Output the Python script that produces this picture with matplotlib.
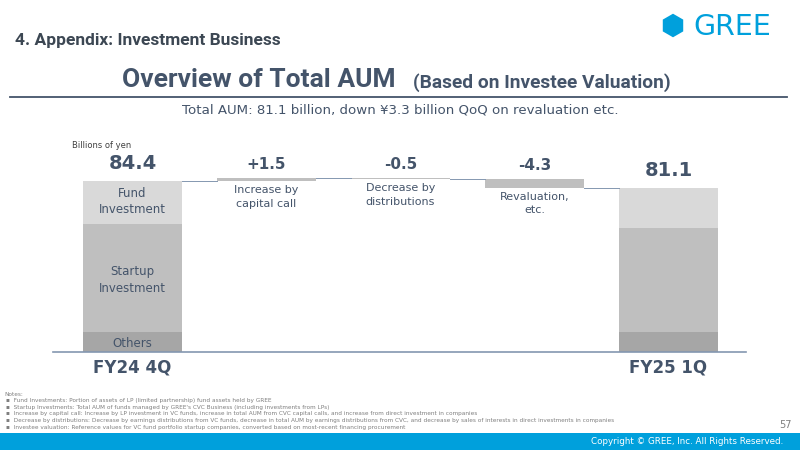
import matplotlib
matplotlib.use("Agg")
import matplotlib.pyplot as plt
from matplotlib.patches import Polygon, Rectangle
import numpy as np

# ---- data ----
periods = ["FY24 4Q", "FY25 1Q"]
others = [10.0, 10.0]
startup = [53.2, 51.3]
fund = [21.2, 19.8]
totals = [84.4, 81.1]
segment_names = ["Others", "Startup\nInvestment", "Fund\nInvestment"]

change_labels = ["Increase by\ncapital call", "Decrease by\ndistributions", "Revaluation,\netc."]
changes = [1.5, -0.5, -4.3]
change_texts = ["+1.5", "-0.5", "-4.3"]

notes = [
    "Notes:",
    "\u25aa  Fund Investments: Portion of assets of LP (limited partnership) fund assets held by GREE",
    "\u25aa  Startup Investments: Total AUM of funds managed by GREE's CVC Business (including investments from LPs)",
    "\u25aa  Increase by capital call: Increase by LP investment in VC funds, increase in total AUM from CVC capital calls, and increase from direct investment in companies",
    "\u25aa  Decrease by distributions: Decrease by earnings distributions from VC funds, decrease in total AUM by earnings distributions from CVC, and decrease by sales of interests in direct investments in companies",
    "\u25aa  Investee valuation: Reference values for VC fund portfolio startup companies, converted based on most-recent financing procurement",
]

W, H = 800, 450
fig = plt.figure(figsize=(8, 4.5), dpi=100)

def fx(x):
    return x / W

def fy(y):
    return 1 - y / H

DARK = "#44546a"
TITLE = "#3c4753"
BLUE = "#00a0dc"
C_FUND, C_START, C_OTH = "#d9d9d9", "#bfbfbf", "#a6a6a6"
NARROW = ["Roboto", "DejaVu Sans"]

# ---- header ----
fig.text(fx(15), fy(41), "4. Appendix: Investment Business", fontsize=12.5, fontweight="bold",
         color=TITLE, family=NARROW, va="center", ha="left")
# logo
cx, cy, r = 673, 25.5, 11.8
pts = [(fx(cx + r * np.cos(a)), fy(cy + r * np.sin(a))) for a in np.deg2rad(np.arange(30, 390, 60))]
fig.add_artist(Polygon(pts, closed=True, transform=fig.transFigure, color=BLUE, lw=0))
fig.text(fx(732.5), fy(27), "GREE", fontsize=20.5, color=BLUE, family=["DejaVu Sans"],
         ha="center", va="center")

fig.text(fx(122), fy(80), "Overview of Total AUM", fontsize=19, fontweight="bold",
         color=DARK, family=NARROW, va="center", ha="left")
fig.text(fx(413), fy(82.5), "(Based on Investee Valuation)", fontsize=13.8, fontweight="bold",
         color=DARK, family=NARROW, va="center", ha="left")
fig.add_artist(plt.Line2D([fx(10), fx(787)], [fy(97), fy(97)], transform=fig.transFigure,
                          color=DARK, lw=1.3))
fig.text(fx(400), fy(110), "Total AUM: 81.1 billion, down \u00a53.3 billion QoQ on revaluation etc.",
         fontsize=9.6, color=DARK, ha="center", va="center")

# ---- chart ----
ax = fig.add_axes([fx(53), fy(352), fx(746) - fx(53), (352 - 130) / H])
bw = 0.74
ends = [0, 4]
ax.bar(ends, others, width=bw, color=C_OTH, lw=0)
ax.bar(ends, startup, bottom=others, width=bw, color=C_START, lw=0)
ax.bar(ends, fund, bottom=np.add(others, startup), width=bw, color=C_FUND, lw=0)

level = totals[0]
levels = [level]
for i, ch in enumerate(changes):
    x = i + 1
    new = level + ch
    ax.bar(x, abs(ch), bottom=min(level, new), width=bw, color=C_START, lw=0)
    ax.text(x, max(level, new) + 6.8, change_texts[i], ha="center", va="center",
            fontsize=11, fontweight="bold", color=DARK)
    ax.text(x, min(level, new) - 2.0, change_labels[i], ha="center", va="top",
            fontsize=8, color=DARK, linespacing=1.45)
    level = new
    levels.append(level)

# connectors
for i in range(4):
    ax.plot([i + bw / 2, i + 1 - bw / 2], [levels[i], levels[i]], color="#8497b0", lw=0.7)

# totals
for k, x in enumerate(ends):
    ax.text(x, totals[k] + 8.6, f"{totals[k]:.1f}", ha="center", va="center",
            fontsize=14, fontweight="bold", color=DARK)

# segment labels on first bar
ax.text(0, others[0] / 2 - 0.8, segment_names[0], ha="center", va="center", fontsize=8.5, color=DARK)
ax.text(0, others[0] + startup[0] / 2 - 1.0, segment_names[1], ha="center", va="center",
        fontsize=8.5, color=DARK, linespacing=1.35)
ax.text(0, others[0] + startup[0] + fund[0] / 2 + 0.6, segment_names[2], ha="center", va="center",
        fontsize=8.5, color=DARK, linespacing=1.35)

ax.set_xlim((53 - 132.5) / 134, (746 - 132.5) / 134)
ax.set_ylim(0, 222 / 2.026)
for s in ["top", "right", "left"]:
    ax.spines[s].set_visible(False)
ax.spines["bottom"].set_color("#8497b0")
ax.spines["bottom"].set_linewidth(1.2)
ax.set_yticks([])
ax.set_xticks(ends)
ax.set_xticklabels(periods, fontsize=12, fontweight="bold", color=DARK)
ax.tick_params(axis="x", length=0, pad=5)
ax.patch.set_alpha(0)

fig.text(fx(72), fy(145), "Billions of yen", fontsize=6, color="#404040", ha="left", va="center")

# ---- notes ----
for i, line in enumerate(notes):
    fig.text(fx(4 if i == 0 else 6), fy(394 + i * 6.6), line, fontsize=4.15, color="#7f7f7f",
             ha="left", va="center")
fig.text(fx(792), fy(425), "57", fontsize=7, color="#7f7f7f", ha="right", va="center")

# footer band
fig.add_artist(Rectangle((0, 0), 1, (450 - 432.5) / H, transform=fig.transFigure, color=BLUE, lw=0))
fig.text(fx(783), fy(442), "Copyright \u00a9 GREE, Inc. All Rights Reserved.", fontsize=6.3,
         color="white", ha="right", va="center")

fig.savefig("out.png", dpi=100)
